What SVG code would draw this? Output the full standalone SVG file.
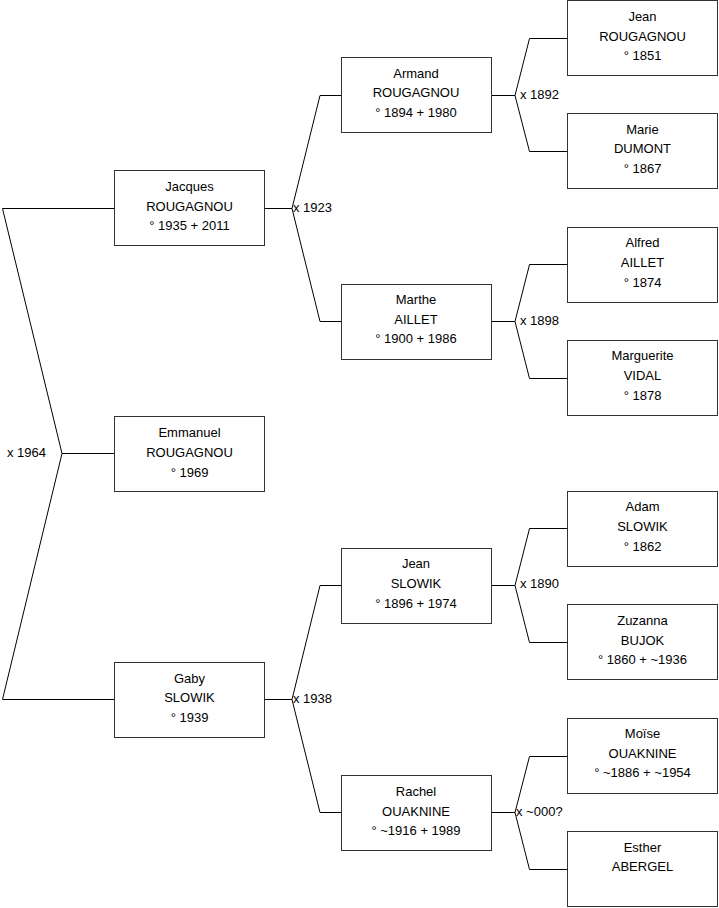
<svg xmlns="http://www.w3.org/2000/svg" width="719" height="908" viewBox="0 0 719 908">
<style>
.box{fill:#fff;stroke:#333;stroke-width:1}
.t{font-family:"Liberation Sans",Arial,sans-serif;font-size:13px;fill:#000;text-anchor:middle}
.lbl{font-family:"Liberation Sans",Arial,sans-serif;font-size:13px;fill:#000}
.c{fill:none;stroke:#000;stroke-width:1}
</style>
<rect width="719" height="908" fill="#fff"/>
<g id="connectors">
<path class="c" d="M114,208.5 H2.5 L62,453.5 L2.5,699.5 H114 M62,453.5 H114"/>
<path class="c" d="M341,95.5 H320 L292,208.5 L320,321.5 H341 M265,208.5 H292"/>
<path class="c" d="M341,585.5 H320 L292,699.5 L320,812.5 H341 M265,699.5 H292"/>
<path class="c" d="M567,38.5 H529.5 L515,95.5 L529.5,151.5 H567 M491,95.5 H515"/>
<path class="c" d="M567,264.5 H529.5 L515,321.5 L529.5,378.5 H567 M491,321.5 H515"/>
<path class="c" d="M567,528.5 H529.5 L515,585.5 L529.5,642.5 H567 M491,585.5 H515"/>
<path class="c" d="M567,756.5 H529.5 L515,812.5 L529.5,869.5 H567 M491,812.5 H515"/>
<text class="lbl" x="7" y="457">x 1964</text>
<text class="lbl" x="293" y="212">x 1923</text>
<text class="lbl" x="293" y="703">x 1938</text>
<text class="lbl" x="520" y="99">x 1892</text>
<text class="lbl" x="520" y="325">x 1898</text>
<text class="lbl" x="520" y="588">x 1890</text>
<text class="lbl" x="516" y="816">x ~000?</text>
</g>
<g id="jacques"><rect class="box" x="114.5" y="170.5" width="150" height="75"/>
<text class="t" x="189.5" y="191">Jacques</text><text class="t" x="189.5" y="211">ROUGAGNOU</text><text class="t" x="189.5" y="230">° 1935 + 2011</text></g>
<g id="emmanuel"><rect class="box" x="114.5" y="416.5" width="150" height="75"/>
<text class="t" x="189.5" y="437">Emmanuel</text><text class="t" x="189.5" y="457">ROUGAGNOU</text><text class="t" x="189.5" y="477">° 1969</text></g>
<g id="gaby"><rect class="box" x="114.5" y="662.5" width="150" height="75"/>
<text class="t" x="189.5" y="683">Gaby</text><text class="t" x="189.5" y="702">SLOWIK</text><text class="t" x="189.5" y="722">° 1939</text></g>
<g id="armand"><rect class="box" x="341.5" y="57.5" width="150" height="75"/>
<text class="t" x="416" y="78">Armand</text><text class="t" x="416" y="97">ROUGAGNOU</text><text class="t" x="416" y="117">° 1894 + 1980</text></g>
<g id="marthe"><rect class="box" x="341.5" y="284.5" width="150" height="75"/>
<text class="t" x="416" y="304">Marthe</text><text class="t" x="416" y="324">AILLET</text><text class="t" x="416" y="343">° 1900 + 1986</text></g>
<g id="jean-slowik"><rect class="box" x="341.5" y="548.5" width="150" height="75"/>
<text class="t" x="416" y="568">Jean</text><text class="t" x="416" y="588">SLOWIK</text><text class="t" x="416" y="608">° 1896 + 1974</text></g>
<g id="rachel"><rect class="box" x="341.5" y="775.5" width="150" height="75"/>
<text class="t" x="416" y="796">Rachel</text><text class="t" x="416" y="816">OUAKNINE</text><text class="t" x="416" y="835">° ~1916 + 1989</text></g>
<g id="jean-rougagnou"><rect class="box" x="567.5" y="0.5" width="150" height="75"/>
<text class="t" x="642.5" y="21">Jean</text><text class="t" x="642.5" y="41">ROUGAGNOU</text><text class="t" x="642.5" y="60">° 1851</text></g>
<g id="marie"><rect class="box" x="567.5" y="113.5" width="150" height="75"/>
<text class="t" x="642.5" y="134">Marie</text><text class="t" x="642.5" y="153">DUMONT</text><text class="t" x="642.5" y="173">° 1867</text></g>
<g id="alfred"><rect class="box" x="567.5" y="227.5" width="150" height="75"/>
<text class="t" x="642.5" y="247">Alfred</text><text class="t" x="642.5" y="267">AILLET</text><text class="t" x="642.5" y="287">° 1874</text></g>
<g id="marguerite"><rect class="box" x="567.5" y="340.5" width="150" height="75"/>
<text class="t" x="642.5" y="360">Marguerite</text><text class="t" x="642.5" y="380">VIDAL</text><text class="t" x="642.5" y="400">° 1878</text></g>
<g id="adam"><rect class="box" x="567.5" y="491.5" width="150" height="75"/>
<text class="t" x="642.5" y="511">Adam</text><text class="t" x="642.5" y="531">SLOWIK</text><text class="t" x="642.5" y="551">° 1862</text></g>
<g id="zuzanna"><rect class="box" x="567.5" y="604.5" width="150" height="75"/>
<text class="t" x="642.5" y="625">Zuzanna</text><text class="t" x="642.5" y="645">BUJOK</text><text class="t" x="642.5" y="664">° 1860 + ~1936</text></g>
<g id="moise"><rect class="box" x="567.5" y="718.5" width="150" height="75"/>
<text class="t" x="642.5" y="738">Moïse</text><text class="t" x="642.5" y="758">OUAKNINE</text><text class="t" x="642.5" y="777">° ~1886 + ~1954</text></g>
<g id="esther"><rect class="box" x="567.5" y="831.5" width="150" height="75"/>
<text class="t" x="642.5" y="852">Esther</text><text class="t" x="642.5" y="871">ABERGEL</text></g>
</svg>
